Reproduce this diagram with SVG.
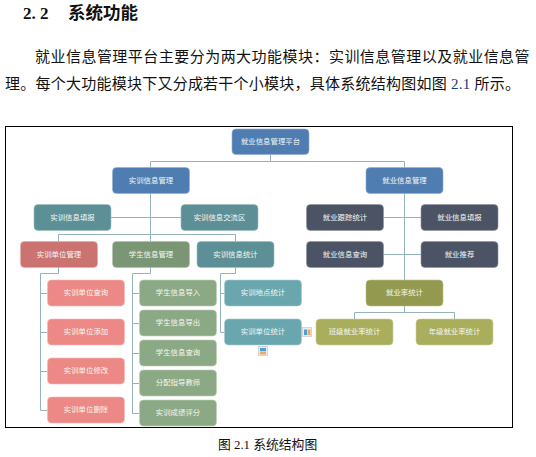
<svg xmlns="http://www.w3.org/2000/svg" width="536" height="457" viewBox="0 0 536 457">
<style>
text{font-family:"Liberation Serif","Noto Sans CJK SC",serif;fill:#111}
.b{font-size:15px;letter-spacing:.47px}
.n rect{stroke-width:.6;rx:4px;ry:4px}
.n text{font-family:"Noto Sans CJK SC","Noto Sans",sans-serif;font-size:7.4px;fill:#f4f6f2;text-anchor:middle;letter-spacing:0;transform:translateY(-1px)}
.blue rect{fill:#4f7cb1;stroke:#8fb0d2}
.teal rect{fill:#5c9096;stroke:#9cc0c3}
.red rect{fill:#cb7370;stroke:#e3aaa8}
.gd rect{fill:#7a9674;stroke:#aebfa9}
.dark rect{fill:#4b5364;stroke:#8f95a1}
.rl rect{fill:#ec8886;stroke:#f5b9b8}
.gl rect{fill:#8ca985;stroke:#bccdb7}
.tl rect{fill:#6aa6ae;stroke:#a4cbd0}
.od rect{fill:#93994f;stroke:#bcc08d}
.ol rect{fill:#a9ae5c;stroke:#cdd09a}
#connectors path{fill:none;stroke:#95b4b8;stroke-width:1}
</style>
<rect width="536" height="457" fill="#fff"/>
<text x="23" y="19" style="font-size:17px;font-weight:bold">2. 2</text>
<text x="68" y="19" style="font-family:'Noto Sans CJK SC',sans-serif;font-size:17.500px;font-weight:700">系统功能</text>
<text class="b" x="35" y="62">就业信息管理平台主要分为两大功能模块：实训信息管理以及就业信息管</text>
<text class="b" x="5" y="89" style="letter-spacing:.24px">理。每个大功能模块下又分成若干个小模块，具体系统结构图如图 <tspan fill="#1a3a7a">2.1</tspan> 所示。</text>
<rect x="5.500" y="126.500" width="507" height="301" fill="#fff" stroke="#000" stroke-width="1"/>
<g id="connectors">
<path d="M270.500 154.500V161.500M150.500 167.500V161.500H404.500V167.500"/>
<path d="M150.500 193.500V241M111 217.500H181M58.500 241V234.500H235.500V241"/>
<path d="M58.500 267V273.500H40.500V410.500H47.500M40.500 293.500H47.500M40.500 332.500H47.500M40.500 371.500H47.500"/>
<path d="M150.500 267V273.500H132.500V413.500H139M132.500 293.500H139M132.500 323.500H139M132.500 353.500H139M132.500 383.500H139"/>
<path d="M235.500 267V273.500H220.500V332.500H224M220.500 293.500H224"/>
<path d="M404.500 193.500V280M383.500 217.500H421M383.500 254.500H421"/>
<path d="M404.500 306V312.500M354.500 319V312.500H454.500V319"/>
</g>
<g id="root" class="n blue"><rect x="232" y="129" width="77" height="25.500"/><text x="270.500" y="144.500">就业信息管理平台</text></g>
<g id="shixun" class="n blue"><rect x="112.500" y="167.500" width="77" height="26"/><text x="151" y="183.500">实训信息管理</text></g>
<g id="jiuye" class="n blue"><rect x="366" y="167.500" width="77" height="26"/><text x="404.500" y="183.500">就业信息管理</text></g>
<g id="sx-fill" class="n teal"><rect x="34" y="204.500" width="77" height="26"/><text x="72.500" y="220.500">实训信息填报</text></g>
<g id="sx-forum" class="n teal"><rect x="181" y="204.500" width="77" height="26"/><text x="219.500" y="220.500">实训信息交流区</text></g>
<g id="sx-unit" class="n red"><rect x="20.500" y="241.500" width="77" height="26"/><text x="59" y="257.500">实训单位管理</text></g>
<g id="sx-student" class="n gd"><rect x="112.500" y="241.500" width="77" height="26"/><text x="151" y="257.500">学生信息管理</text></g>
<g id="sx-stat" class="n teal"><rect x="197" y="241.500" width="77" height="26"/><text x="235.500" y="257.500">实训信息统计</text></g>
<g id="jy-track" class="n dark"><rect x="306.500" y="204.500" width="77" height="26"/><text x="345" y="220.500">就业跟踪统计</text></g>
<g id="jy-fill" class="n dark"><rect x="421" y="204.500" width="77" height="26"/><text x="459.500" y="220.500">就业信息填报</text></g>
<g id="jy-query" class="n dark"><rect x="306.500" y="241.500" width="77" height="26"/><text x="345" y="257.500">就业信息查询</text></g>
<g id="jy-rec" class="n dark"><rect x="421" y="241.500" width="77" height="26"/><text x="459.500" y="257.500">就业推荐</text></g>
<g id="jy-rate" class="n od"><rect x="366" y="280" width="77" height="26"/><text x="404.500" y="296">就业率统计</text></g>
<g id="jy-class" class="n ol"><rect x="316" y="319" width="77" height="26"/><text x="354.500" y="335">班级就业率统计</text></g>
<g id="jy-grade" class="n ol"><rect x="416" y="319" width="77" height="26"/><text x="454.500" y="335">年级就业率统计</text></g>
<g id="u1" class="n rl"><rect x="47.500" y="280" width="77" height="26"/><text x="86" y="296">实训单位查询</text></g>
<g id="u2" class="n rl"><rect x="47.500" y="319" width="77" height="26"/><text x="86" y="335">实训单位添加</text></g>
<g id="u3" class="n rl"><rect x="47.500" y="358" width="77" height="26"/><text x="86" y="374">实训单位修改</text></g>
<g id="u4" class="n rl"><rect x="47.500" y="397" width="77" height="26"/><text x="86" y="413">实训单位删除</text></g>
<g id="s1" class="n gl"><rect x="139.500" y="280" width="77" height="26"/><text x="178" y="296">学生信息导入</text></g>
<g id="s2" class="n gl"><rect x="139.500" y="310" width="77" height="26"/><text x="178" y="326">学生信息导出</text></g>
<g id="s3" class="n gl"><rect x="139.500" y="340" width="77" height="26"/><text x="178" y="356">学生信息查询</text></g>
<g id="s4" class="n gl"><rect x="139.500" y="370" width="77" height="26"/><text x="178" y="386">分配指导教师</text></g>
<g id="s5" class="n gl"><rect x="139.500" y="400" width="77" height="26"/><text x="178" y="416">实训成绩评分</text></g>
<g id="t1" class="n tl"><rect x="224.500" y="280" width="77" height="26"/><text x="263" y="296">实训地点统计</text></g>
<g id="t2" class="n tl"><rect x="224.500" y="319" width="77" height="26"/><text x="263" y="335">实训单位统计</text></g>
<g id="icon-right"><rect x="302.500" y="327.500" width="9" height="9" fill="#ececec" stroke="#ccc" stroke-width=".8"/><rect x="304" y="329.500" width="3" height="5.500" fill="#4a9fd8"/><rect x="307.500" y="329.500" width="3" height="5.500" fill="#f0a860"/></g>
<g id="icon-bottom"><rect x="258.500" y="346.500" width="9" height="9" fill="#ececec" stroke="#ccc" stroke-width=".8"/><rect x="260" y="348" width="6" height="3" fill="#4a9fd8"/><rect x="260" y="351.500" width="6" height="3" fill="#f0a860"/></g>
<text x="218" y="448.500" style="font-size:12.800px">图 2.1 系统结构图</text>
</svg>
